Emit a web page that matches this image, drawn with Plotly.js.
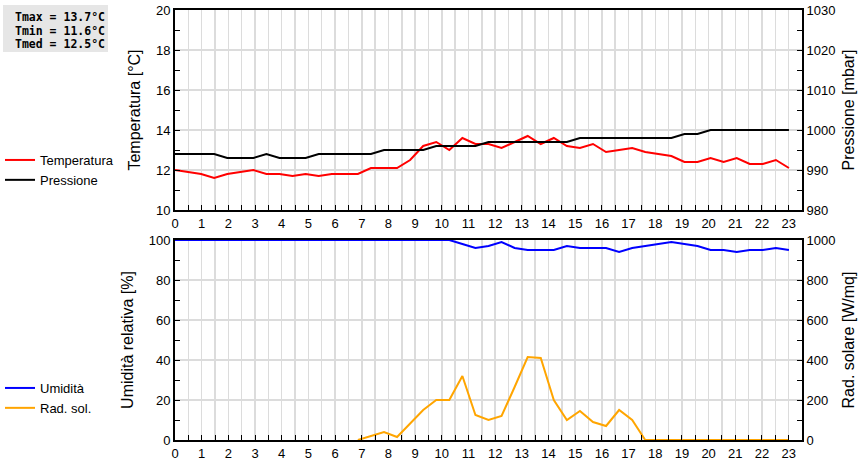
<!DOCTYPE html>
<html>
<head>
<meta charset="utf-8">
<script src="https://cdn.plot.ly/plotly-3.0.1.min.js"></script>
<style>html,body{margin:0;padding:0;background:#fff;}#chart{width:860px;height:460px;}</style>
</head>
<body>
<div id="chart"></div>
<script>
// Hour labels on the time axis
const hourLabels = [0,1,2,3,4,5,6,7,8,9,10,11,12,13,14,15,16,17,18,19,20,21,22,23];
// Samples (48 per day)
const temperatura = [12.0,11.9,11.8,11.6,11.8,11.9,12.0,11.8,11.8,11.7,11.8,11.7,11.8,11.8,11.8,12.1,
  12.1,12.1,12.5,13.2,13.4,13.0,13.6,13.3,13.3,13.1,13.4,13.7,13.3,13.6,13.2,13.1,
  13.3,12.9,13.0,13.1,12.9,12.8,12.7,12.4,12.4,12.6,12.4,12.6,12.3,12.3,12.5,12.1];
const pressione = [994,994,994,994,993,993,993,994,993,993,993,994,994,994,994,994,
  995,995,995,995,996,996,996,996,997,997,997,997,997,997,997,998,
  998,998,998,998,998,998,998,999,999,1000,1000,1000,1000,1000,1000,1000];
const umidita = [100,100,100,100,100,100,100,100,100,100,100,100,100,100,100,100,
  100,100,100,100,100,100,98,96,97,99,96,95,95,95,97,96,
  96,96,94,96,97,98,99,98,97,95,95,94,95,95,96,95];
const radSol = [null,null,null,null,null,null,null,null,null,null,null,null,null,null,0,20,
  40,15,80,150,200,200,320,125,100,120,265,415,410,200,100,145,
  90,70,150,100,0,0,0,0,0,0,0,0,0,0,0,0];
const statLabels = ['Tmax = 13.7°C','Tmin = 11.6°C','Tmed = 12.5°C'];

const nSlots = 48;          // axis spans 48 sample slots = 23.5 h
const spanHours = 23.5;
const idx = temperatura.map((_, i) => i);
const tickvals = hourLabels.map(h => h * nSlots / spanHours);

const font = {family: 'Liberation Sans, Arial, sans-serif', size: 13, color: '#000'};
const grid = '#dcdcdc';

function xAxis(anchor) {
  return {
    anchor: anchor, range: [0, nSlots], tickmode: 'array', tickvals: tickvals, ticktext: hourLabels.map(String),
    ticks: 'inside', ticklen: 5, tickwidth: 1, tickcolor: '#000',
    showline: true, linecolor: '#000', linewidth: 2, mirror: true,
    showgrid: true, gridcolor: grid, gridwidth: 1.5, zeroline: false, automargin: false,
    minor: {tick0: 0, dtick: nSlots / spanHours / 2, ticks: 'inside', ticklen: 5, tickcolor: '#000', showgrid: true, gridcolor: grid, gridwidth: 1.5},
    tickfont: font, fixedrange: true
  };
}
function yAxis(opts) {
  return Object.assign({
    ticks: 'inside', ticklen: 5, tickwidth: 1, tickcolor: '#000',
    showline: true, linecolor: '#000', linewidth: 2, automargin: false,
    zeroline: false, tickfont: font, fixedrange: true
  }, opts);
}
const titleFont = {family: 'Liberation Sans, Arial, sans-serif', size: 16, color: '#000'};

const traces = [
  {x: idx, y: temperatura, type: 'scatter', mode: 'lines', name: 'Temperatura', xaxis: 'x', yaxis: 'y', line: {color: '#ff0000', width: 2}, legend: 'legend'},
  {x: idx, y: pressione, type: 'scatter', mode: 'lines', name: 'Pressione', xaxis: 'x', yaxis: 'y2', line: {color: '#000000', width: 2}, legend: 'legend'},
  {x: idx, y: umidita, type: 'scatter', mode: 'lines', name: 'Umidità', xaxis: 'x2', yaxis: 'y3', line: {color: '#0000ff', width: 2}, legend: 'legend2'},
  {x: idx, y: radSol, type: 'scatter', mode: 'lines', name: 'Rad. sol.', xaxis: 'x2', yaxis: 'y4', line: {color: '#ffa500', width: 2}, legend: 'legend2'}
];

const topDom = [230/430, 1];
const botDom = [0, 200/430];

const layout = {
  width: 860, height: 460,
  margin: {l: 175, r: 58, t: 10, b: 20, autoexpand: false},
  paper_bgcolor: '#fff', plot_bgcolor: '#fff',
  font: font,
  showlegend: true,
  xaxis: xAxis('y'),
  xaxis2: xAxis('y3'),
  yaxis: yAxis({domain: topDom, range: [10, 20], dtick: 2, tick0: 10, showgrid: true, gridcolor: grid, gridwidth: 1.5,
    minor: {dtick: 1, ticks: 'inside', ticklen: 5, tickcolor: '#000', showgrid: false},
    title: {text: 'Temperatura [°C]', font: titleFont, standoff: 11}}),
  yaxis2: yAxis({domain: topDom, range: [980, 1030], dtick: 10, tick0: 980, overlaying: 'y', side: 'right', anchor: 'x', showgrid: false,
    minor: {dtick: 5, ticks: 'inside', ticklen: 5, tickcolor: '#000', showgrid: false},
    title: {text: 'Pressione [mbar]', font: titleFont, standoff: 8}}),
  yaxis3: yAxis({domain: botDom, anchor: 'x2', range: [0, 100], dtick: 20, tick0: 0, showgrid: true, gridcolor: grid, gridwidth: 1.5,
    minor: {dtick: 10, ticks: 'inside', ticklen: 5, tickcolor: '#000', showgrid: false},
    title: {text: 'Umidità relativa [%]', font: titleFont, standoff: 11}}),
  yaxis4: yAxis({domain: botDom, range: [0, 1000], dtick: 200, tick0: 0, overlaying: 'y3', side: 'right', anchor: 'x2', showgrid: false,
    minor: {dtick: 100, ticks: 'inside', ticklen: 5, tickcolor: '#000', showgrid: false},
    title: {text: 'Rad. solare [W/mq]', font: titleFont, standoff: 8}}),
  legend: {xref: 'container', yref: 'container', x: 0, xanchor: 'left', y: 1 - 170/460, yanchor: 'middle', bgcolor: 'rgba(0,0,0,0)', font: font, itemwidth: 30, tracegroupgap: 0},
  legend2: {xref: 'container', yref: 'container', x: 0, xanchor: 'left', y: 1 - 398/460, yanchor: 'middle', bgcolor: 'rgba(0,0,0,0)', font: font, itemwidth: 30, tracegroupgap: 0},
  shapes: [{type: 'rect', xref: 'paper', yref: 'paper', x0: -172/627, x1: -67/627, y0: (440-52)/430, y1: (440-5)/430, fillcolor: '#e6e6e6', line: {width: 0}, layer: 'below'}],
  annotations: statLabels.map((t, k) => ({
    text: '<b>' + t + '</b>', xref: 'paper', yref: 'paper', x: -162/627, xanchor: 'left',
    y: (440 - (17 + k * 13.5)) / 430, yanchor: 'middle', showarrow: false,
    font: {family: 'DejaVu Sans Mono, monospace', size: 11.5, color: '#000'}
  }))
};

Plotly.newPlot('chart', traces, layout, {displayModeBar: false, staticPlot: true});
</script>
</body>
</html>
